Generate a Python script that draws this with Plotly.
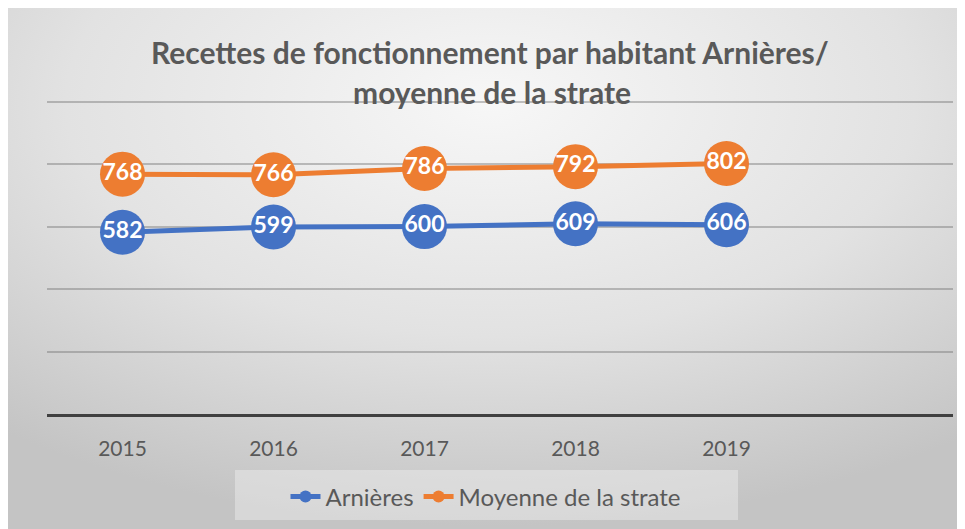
import base64
import plotly.graph_objects as go

# ---- data ----
years = ["2015", "2016", "2017", "2018", "2019"]
arnieres = [582, 599, 600, 609, 606]
moyenne = [768, 766, 786, 792, 802]
series_names = ["Arnières", "Moyenne de la strate"]
title_lines = ["Recettes de fonctionnement par habitant Arnières/", "moyenne de la strate"]

BLUE = "#4472C4"
ORANGE = "#ED7D31"
TXT = "#595959"
FONT = "Lato"

W, H = 965, 529
OFF = 8  # page body margin
YMAX = 1015
MB = H - (414 - OFF)
plot_h = round((414 - 102) * YMAX / 1000)
MT = H - MB - plot_h
ML, MR = 47 - OFF, W - (953 - OFF)

svg = f"""<svg xmlns='http://www.w3.org/2000/svg' width='{W}' height='{H}' viewBox='0 0 {W} {H}' preserveAspectRatio='none'>
<defs><radialGradient id='g' cx='50%' cy='18%' r='80%'>
<stop offset='0%' stop-color='#f7f7f7'/><stop offset='55%' stop-color='#e2e2e2'/><stop offset='100%' stop-color='#c4c4c4'/>
</radialGradient></defs><rect width='{W}' height='{H}' fill='url(#g)'/></svg>"""
src = "data:image/svg+xml;base64," + base64.b64encode(svg.encode()).decode()

fig = go.Figure()
for name, vals, col in [(series_names[0], arnieres, BLUE), (series_names[1], moyenne, ORANGE)]:
    fig.add_trace(go.Scatter(
        x=years, y=vals, mode="lines+markers+text", name=name, showlegend=False,
        line=dict(color=col, width=5),
        marker=dict(color=col, size=45),
        text=[str(v) for v in vals], textposition="middle center",
        textfont=dict(family=FONT, size=23, color="white", weight="bold"),
        cliponaxis=False,
    ))
for name, col in [(series_names[0], BLUE), (series_names[1], ORANGE)]:
    fig.add_trace(go.Scatter(
        x=[None], y=[None], mode="lines+markers", name=name,
        line=dict(color=col, width=5), marker=dict(color=col, size=12),
    ))

def py(ypage):
    return (H - MB - (ypage - OFF)) / plot_h
def px(xpage):
    return ((xpage - OFF) - ML) / (W - ML - MR)

fig.update_layout(
    width=W, height=H,
    margin=dict(l=ML, r=MR, t=MT, b=MB),
    paper_bgcolor="white", plot_bgcolor="rgba(0,0,0,0)",
    images=[dict(source=src, xref="paper", yref="paper",
                 x=px(OFF), y=py(OFF), sizex=px(W + OFF) - px(OFF), sizey=py(OFF) - py(H + OFF),
                 xanchor="left", yanchor="top", sizing="stretch", layer="below")],
    shapes=[dict(type="rect", xref="paper", yref="paper", layer="below",
                 x0=px(235), x1=px(738), y0=py(520), y1=py(470),
                 fillcolor="rgba(240,240,240,0.45)", line=dict(width=0))],
    annotations=[
        dict(text=f"<b>{title_lines[0]}</b>", xref="paper", yref="paper",
             x=px(490), y=py(52), showarrow=False, xanchor="center", yanchor="middle",
             font=dict(family=FONT, size=30, color=TXT)),
        dict(text=f"<b>{title_lines[1]}</b>", xref="paper", yref="paper",
             x=px(492), y=py(92), showarrow=False, xanchor="center", yanchor="middle",
             font=dict(family=FONT, size=30, color=TXT)),
    ],
    xaxis=dict(type="category", categoryarray=years + [" "], range=[-0.5, 5.5],
               showgrid=False, showline=True, linecolor="#404040", linewidth=3,
               tickfont=dict(family=FONT, size=21, color=TXT), ticks="",
               ticklabelstandoff=14, fixedrange=True),
    yaxis=dict(range=[0, YMAX], tickvals=[200, 400, 600, 800, 1000], showticklabels=False,
               zeroline=False, showgrid=True, gridcolor="rgba(120,120,120,0.45)", gridwidth=1.5,
               fixedrange=True),
    legend=dict(orientation="h", xref="container", yref="container",
                x=(486 - OFF) / W, y=(H - (497 - OFF)) / H, xanchor="center", yanchor="middle",
                bgcolor="rgba(0,0,0,0)", font=dict(family=FONT, size=24, color=TXT),
                entrywidth=0),
)

fig.write_html("out.html")
